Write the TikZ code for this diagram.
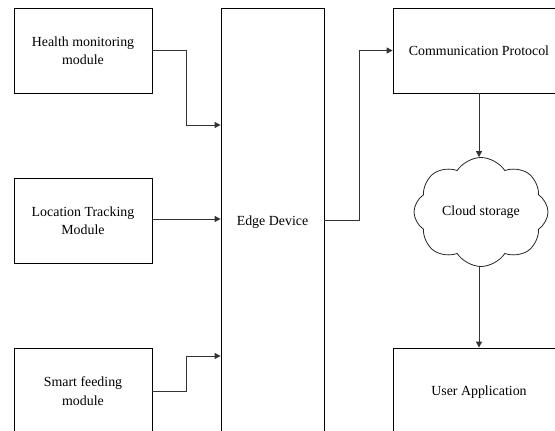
\documentclass[tikz,border=0pt]{standalone}
\usepackage{fontspec}
\setmainfont{Liberation Serif}
\usetikzlibrary{shapes.symbols,arrows.meta}
\begin{document}
\begin{tikzpicture}[x=1pt,y=-1pt,
  box/.style={draw=black,line width=0.8pt,rectangle,align=center,inner sep=0pt,
    font=\fontsize{13.9}{18.5}\selectfont},
  conn/.style={draw=black!80,line width=1pt,-{Triangle[length=6pt,width=6pt]}},
  cloudbox/.style={draw=black!85,line width=0.8pt,cloud,cloud puffs=8,cloud puff arc=115,
    aspect=1.25,inner sep=0pt,minimum width=134pt,minimum height=109pt,
    font=\fontsize{13.9}{18.5}\selectfont}]
\useasboundingbox (0,0) rectangle (555,431);
\clip (0,0) rectangle (555,431);
\fill[white] (0,0) rectangle (555,431);
\node[box,minimum width=138pt,minimum height=85pt] (health) at (83,50.5) {Health monitoring\\module};
\node[box,minimum width=138pt,minimum height=85pt] (loc) at (83,220.5) {Location Tracking\\Module};
\node[box,minimum width=138pt,minimum height=86pt] (smart) at (83,391) {Smart feeding\\module};
\node[box,minimum width=103pt,minimum height=428pt] (edge) at (272.5,222) {Edge Device};
\node[box,minimum width=172pt,minimum height=85pt] (comm) at (479,50.5) {Communication Protocol};
\node[box,minimum width=172pt,minimum height=88pt] (user) at (479,392) {User Application};
\node[cloudbox] (cloud) at (481,212) {Cloud storage};
\coordinate (hin) at (edge.west |- 0,125);
\coordinate (sin) at (edge.west |- 0,356);
\coordinate (eout) at (edge.east |- 0,220);
\draw[conn] (health.east) -- ++(34,0) |- (hin);
\draw[conn] (loc.east |- 0,219) -- (edge.west |- 0,219);
\draw[conn] (smart.east) -- ++(34,0) |- (sin);
\draw[conn] (eout) -- ++(35,0) |- (comm.west);
\draw[conn] (comm.south) -- (comm.south |- cloud.north);
\draw[conn] (comm.south |- cloud.south) -- (user.north);
\end{tikzpicture}
\end{document}
